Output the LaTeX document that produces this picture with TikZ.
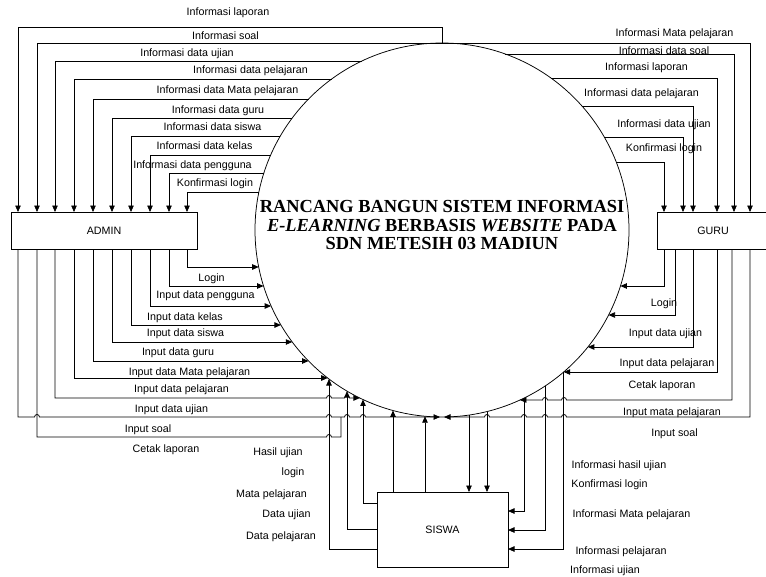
\documentclass[tikz,border=0pt]{standalone}
\usepackage{fontspec}
\newfontfamily\arialf{Liberation Sans}
\newfontfamily\timesf{Liberation Serif}
\usetikzlibrary{arrows.meta}
\newcommand\lbfont{\arialf\fontsize{10.7}{12}\selectfont}
\newcommand\ttlfont{\timesf\bfseries\fontsize{18.4}{18.6}\selectfont}
% points on the system circle (centre 442,230, radius 187; y grows downwards)
\newcommand\cxL[1]{442-187*cos(asin((230-#1)/187))}
\newcommand\cxR[1]{442+187*cos(asin((230-#1)/187))}
\newcommand\cyB[1]{230+187*sin(acos((#1-442)/187))}
% line hops (bump upwards) on horizontal lines
\newcommand\hopR[2]{-- ({#1-2.5},#2) .. controls ({#1-2.5},{#2-3.3}) and ({#1+2.5},{#2-3.3}) .. ({#1+2.5},#2)}
\newcommand\hopL[2]{-- ({#1+2.5},#2) .. controls ({#1+2.5},{#2-3.3}) and ({#1-2.5},{#2-3.3}) .. ({#1-2.5},#2)}
\tikzset{
  ln/.style={line width=0.75pt, draw=black},
  arr/.style={ln, -{Triangle[length=6.5pt,width=5.5pt]}},
  lbl/.style={font=\lbfont, inner sep=0pt, anchor=base},
  ent/.style={draw, line width=0.75pt, inner sep=0pt, outer sep=0pt, font=\lbfont},
}
\begin{document}
\begin{tikzpicture}[x=1pt,y=-1pt]
\useasboundingbox (0,0) rectangle (766,576);

% entities
\node[draw, circle, line width=0.75pt, minimum size=374pt, inner sep=0pt, outer sep=0pt] (sys) at (442,230) {};
\node[align=center, font=\ttlfont, inner sep=0pt] (title) at (442,225)
  {RANCANG BANGUN SISTEM INFORMASI\\\textit{E-LEARNING} BERBASIS \textit{WEBSITE} PADA\\SDN METESIH 03 MADIUN};
\node[ent, minimum width=186pt, minimum height=37pt] (admin) at (104,230.5) {ADMIN};
\node[ent, minimum width=112pt, minimum height=37pt] (guru) at (713,230.5) {GURU};
\node[ent, minimum width=131pt, minimum height=75pt] (siswa) at (442.5,529.5) {SISWA};

% ---------------- ADMIN: flows from system ----------------
\draw[arr] (sys.north) -- (sys.north |- 0,27) -| (18,0 |- admin.north);
\draw[arr] (sys.north) -| (37,0 |- admin.north);
\foreach \yy/\xx in {61/55, 79/74, 99/93, 118/112, 136/131, 155/150, 173/169, 192/187} {
  \coordinate (ai\xx) at ({\cxL{\yy}},\yy);
  \draw[arr] (ai\xx) -| (\xx,0 |- admin.north);
}
% ---------------- ADMIN: flows to system ----------------
\foreach \xx/\yy in {187/267, 169/286, 150/306, 131/325, 112/342, 93/361, 74/378} {
  \coordinate (ao\xx) at ({\cxL{\yy}},\yy);
  \draw[arr] (\xx,0 |- admin.south) |- (ao\xx);
}
\coordinate (ao55) at ({\cxL{398}},398);
\draw[arr] (55,0 |- admin.south) -- (55,398) \hopR{329}{398} \hopR{347}{398} -- (ao55);
\coordinate (botL) at ([xshift=-2pt]sys.south);
\draw[arr] (18,0 |- admin.south) -- (18,417) \hopR{37}{417} \hopR{329}{417} \hopR{347}{417} \hopR{363}{417} -- (botL);
\draw[ln] (37,0 |- admin.south) -- (37,437) \hopR{329}{437} -- (341,437) -- (341,417);

% ---------------- GURU: flows from system ----------------
\draw[arr] (sys.north) -| (750,0 |- guru.north);
\foreach \yy/\xx in {54/734, 78/717, 106/693, 137/683, 162/664} {
  \coordinate (gi\xx) at ({\cxR{\yy}},\yy);
  \draw[arr] (gi\xx) -| (\xx,0 |- guru.north);
}
% ---------------- GURU: flows to system ----------------
\foreach \xx/\yy in {664/286, 675/315, 693/347, 717/372} {
  \coordinate (go\xx) at ({\cxR{\yy}},\yy);
  \draw[arr] (\xx,0 |- guru.south) |- (go\xx);
}
\coordinate (go732) at ({\cxR{400}},400);
\draw[arr] (732,0 |- guru.south) -- (732,400) \hopL{564}{400} \hopL{545}{400} -- (go732);
\coordinate (botR) at ([xshift=2pt]sys.south);
\draw[arr] (750,0 |- guru.south) -- (750,417) \hopL{564}{417} \hopL{545}{417} \hopL{524}{417} \hopL{487}{417} -- (botR);

% ---------------- SISWA: flows to system ----------------
\foreach \xx/\yy in {329/549, 347/529, 363/503} {
  \coordinate (so\xx) at (\xx,{\cyB{\xx}});
  \draw[arr] (siswa.west |- 0,\yy) -| (so\xx);
}
\foreach \xx in {393, 425} {
  \coordinate (so\xx) at (\xx,{\cyB{\xx}});
  \draw[arr] (\xx,0 |- siswa.north) -- (so\xx);
}
% ---------------- SISWA: flows from system ----------------
\foreach \xx in {469, 487} {
  \coordinate (si\xx) at (\xx,{\cyB{\xx}});
  \draw[arr] (si\xx) -- (\xx,0 |- siswa.north);
}
\coordinate (sm) at (524,400);
\draw[arr] (sm) |- (siswa.east |- 0,511);
\coordinate (si545) at (545,{\cyB{545}});
\draw[arr] (si545) |- (siswa.east |- 0,530);
\draw[arr] (go717) |- (siswa.east |- 0,549);

% ---------------- labels ----------------
% admin top
\node[lbl] (la1) at (228,15) {Informasi laporan};
\node[lbl] (la2) at (225.5,39) {Informasi soal};
\node[lbl] (la3) at (187,56) {Informasi data ujian};
\node[lbl] (la4) at (250.5,73) {Informasi data pelajaran};
\node[lbl] (la5) at (227.5,93) {Informasi data Mata pelajaran};
\node[lbl] (la6) at (218,113) {Informasi data guru};
\node[lbl] (la7) at (212.5,130) {Informasi data siswa};
\node[lbl] (la8) at (204.5,149) {Informasi data kelas};
\node[lbl] (la9) at (192.5,168) {Informasi data pengguna};
\node[lbl] (la10) at (215,186) {Konfirmasi login};
% admin bottom
\node[lbl] (lb1) at (211.5,281) {Login};
\node[lbl] (lb2) at (205.5,298) {Input data pengguna};
\node[lbl] (lb3) at (185,320) {Input data kelas};
\node[lbl] (lb4) at (185.5,336) {Input data siswa};
\node[lbl] (lb5) at (178,355) {Input data guru};
\node[lbl] (lb6) at (189.5,375) {Input data Mata pelajaran};
\node[lbl] (lb7) at (181.5,392) {Input data pelajaran};
\node[lbl] (lb8) at (171.5,412) {Input data ujian};
\node[lbl] (lb9) at (148,432) {Input soal};
\node[lbl] (lb10) at (166,452) {Cetak laporan};
% guru top
\node[lbl] (lg1) at (674.5,36) {Informasi Mata pelajaran};
\node[lbl] (lg2) at (664,54) {Informasi data soal};
\node[lbl] (lg3) at (646.5,70) {Informasi laporan};
\node[lbl] (lg4) at (641.5,96) {Informasi data pelajaran};
\node[lbl] (lg5) at (664,127) {Informasi data ujian};
\node[lbl] (lg6) at (664,151) {Konfirmasi login};
% guru bottom
\node[lbl] (lh1) at (664,306) {Login};
\node[lbl] (lh2) at (665.5,336) {Input data ujian};
\node[lbl] (lh3) at (667,366) {Input data pelajaran};
\node[lbl] (lh4) at (662,388) {Cetak laporan};
\node[lbl] (lh5) at (672,415) {Input mata pelajaran};
\node[lbl] (lh6) at (674.5,436) {Input soal};
% siswa left
\node[lbl] (ls1) at (278,455) {Hasil ujian};
\node[lbl] (ls2) at (293,475) {login};
\node[lbl] (ls3) at (271.5,497) {Mata pelajaran};
\node[lbl] (ls4) at (286.5,517) {Data ujian};
\node[lbl] (ls5) at (281,539) {Data pelajaran};
% siswa right
\node[lbl] (lr1) at (619,468) {Informasi hasil ujian};
\node[lbl] (lr2) at (609.5,487) {Konfirmasi login};
\node[lbl] (lr3) at (631.5,517) {Informasi Mata pelajaran};
\node[lbl] (lr4) at (621,554) {Informasi pelajaran};
\node[lbl] (lr5) at (605,573) {Informasi ujian};
\end{tikzpicture}
\end{document}
